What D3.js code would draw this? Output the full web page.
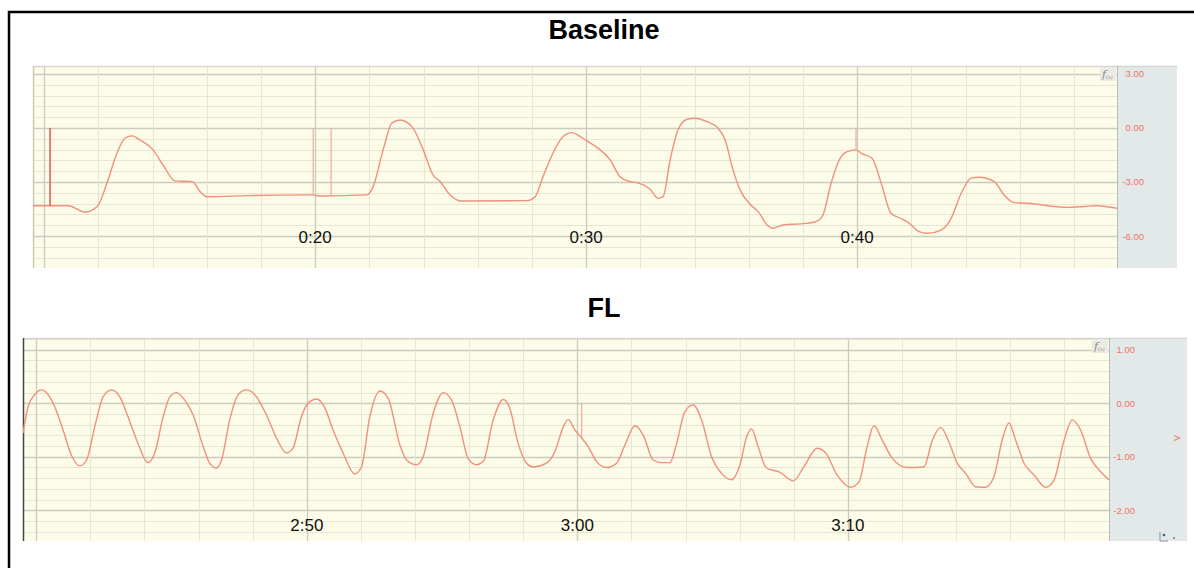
<!DOCTYPE html>
<meta charset="utf-8">
<html>
<head>
  <title>Baseline / FL</title>
  <style>
    body { margin: 0; background: #fff; }
    svg { display: block; font-family: "Liberation Sans", Arial, sans-serif; }
    .title { font-weight: 700; font-size: 27px; fill: #000; }
    .tlabel { font-size: 17px; fill: #111; }
    .ytick text { font-size: 9.5px; fill: #f07464; }
    .trace { fill: none; stroke: #f0907e; stroke-width: 1.4px; }
  </style>
</head>
<body>
<svg width="1194" height="568"></svg>
<script src="https://cdn.jsdelivr.net/npm/d3@7"></script>
<script>

// ---- Baseline panel (time in seconds, value in V)
var baseT = [9.59,10.89,11.51,11.96,12.32,12.69,12.99,13.25,13.54,14.02,14.39,14.83,15.46,15.76,16.01,17.49,
  19.93,20.18,21.92,22.14,22.51,22.84,23.14,23.58,23.99,24.35,24.61,24.98,25.42,27.82,28.12,28.41,28.78,
  29.15,29.48,29.78,30.15,30.52,30.89,31.25,31.62,31.88,32.36,32.66,32.84,33.10,33.39,33.73,34.02,34.46,
  34.87,35.13,35.42,35.68,36.05,36.35,36.68,36.86,37.27,37.90,38.41,38.71,39.04,39.34,39.63,39.96,40.15,
  40.55,40.89,41.25,41.66,41.92,42.29,42.58,43.10,43.47,43.84,44.21,44.50,45.06,45.42,45.79,46.27,47.75,
  48.38,48.86,49.59];
var baseV = [-4.32,-4.32,-4.68,-4.37,-3.06,-1.39,-0.56,-0.44,-0.67,-1.22,-2.06,-2.94,-2.98,-3.54,-3.82,-3.76,
  -3.72,-3.78,-3.72,-3.26,-1.22,0.28,0.44,0.06,-1.22,-2.61,-2.98,-3.72,-4.06,-4.04,-3.82,-2.71,-1.39,
  -0.48,-0.26,-0.48,-0.83,-1.22,-1.78,-2.71,-2.98,-3.04,-3.41,-3.91,-3.82,-1.78,-0.11,0.48,0.54,0.35,
  -0.02,-0.67,-2.33,-3.44,-4.24,-4.65,-5.39,-5.57,-5.39,-5.33,-5.24,-4.93,-3.07,-1.78,-1.32,-1.22,-1.41,
  -1.68,-3.07,-4.74,-5.06,-5.29,-5.76,-5.85,-5.67,-5.02,-3.63,-2.79,-2.74,-2.98,-3.72,-4.15,-4.18,-4.41,
  -4.36,-4.32,-4.46];
var baseMarkT = [10.22, 19.93, 20.59, 39.96];
var baseMarkV = [-4.32, -3.72, -3.72, -1.22];
var baseYTicks = [3, 0, -3, -6];
var baseTimeT = [20, 30, 40];
var baseTimeLabels = ["0:20", "0:30", "0:40"];

// ---- FL panel
var flT = [159.51,159.70,159.94,160.19,160.44,160.68,160.99,161.30,161.61,161.86,162.16,162.47,162.78,163.09,
  163.39,163.76,164.13,164.38,164.69,164.94,165.18,165.49,165.80,166.17,166.41,166.66,166.85,167.15,167.46,
  167.77,168.08,168.51,168.88,169.25,169.49,169.80,170.11,170.36,170.67,170.97,171.34,171.77,172.02,172.33,
  172.70,173.01,173.44,173.69,174.06,174.30,174.67,175.04,175.35,175.66,175.96,176.27,176.52,176.89,177.26,
  177.50,177.81,178.12,178.37,178.86,179.17,179.48,179.66,179.91,180.16,180.40,180.71,181.08,181.45,181.76,
  182.13,182.43,182.80,183.11,183.42,183.67,183.97,184.28,184.59,184.96,185.33,185.70,186.01,186.26,186.44,
  186.68,186.99,187.49,187.98,188.37,188.86,189.18,189.60,190.10,190.41,190.71,190.96,191.27,191.64,192.19,
  192.81,193.12,193.43,193.73,194.04,194.35,194.72,195.09,195.40,195.70,195.95,196.20,196.51,196.88,197.31,
  197.62,197.99,198.29,198.60,198.97,199.34,199.65];
var flV = [-0.56,-0.06,0.16,0.25,0.16,-0.06,-0.50,-0.97,-1.17,-1.06,-0.44,0.12,0.25,0.12,
  -0.25,-0.75,-1.11,-0.93,-0.25,0.12,0.20,0.06,-0.22,-0.81,-1.12,-1.21,-1.06,-0.31,0.16,
  0.25,0.16,-0.22,-0.65,-0.93,-0.84,-0.25,0.03,0.08,-0.09,-0.50,-0.93,-1.32,-1.19,-0.25,
  0.23,0.09,-0.78,-1.06,-1.15,-1.00,-0.19,0.20,0.06,-0.44,-1.03,-1.15,-1.09,-0.31,0.07,
  -0.09,-0.75,-1.12,-1.19,-1.12,-0.90,-0.44,-0.30,-0.50,-0.65,-0.81,-1.09,-1.20,-1.12,-0.78,
  -0.42,-0.59,-1.06,-1.11,-1.11,-0.75,-0.16,-0.03,-0.31,-1.00,-1.31,-1.43,-1.15,-0.62,-0.48,
  -0.81,-1.21,-1.29,-1.45,-1.19,-0.84,-0.93,-1.34,-1.57,-1.47,-0.81,-0.42,-0.69,-1.03,-1.20,
  -1.19,-0.69,-0.45,-0.72,-1.12,-1.31,-1.56,-1.57,-1.37,-0.69,-0.37,-0.69,-1.12,-1.34,-1.57,
  -1.43,-0.69,-0.31,-0.50,-1.03,-1.28,-1.43];
var flMarkT = [180.16];
var flMarkV = [-0.65];
var flYTicks = [1, 0, -1, -2];
var flTimeT = [170, 180, 190];
var flTimeLabels = ["2:50", "3:00", "3:10"];

var svg = d3.select("svg");

// outer frame
svg.append("rect")
    .attr("x", 9).attr("y", 12).attr("width", 1200).attr("height", 600)
    .attr("fill", "none").attr("stroke", "#000").attr("stroke-width", 2.5);

svg.append("text").attr("class", "title")
    .attr("x", 604).attr("y", 39).attr("text-anchor", "middle").text("Baseline");
svg.append("text").attr("class", "title")
    .attr("x", 604).attr("y", 317).attr("text-anchor", "middle").text("FL");

function panel(o) {
  var x = d3.scaleLinear().domain([o.t[0], o.t[o.t.length - 1]]).range([o.left, o.right]);
  var y = d3.scaleLinear().domain(o.yDomain).range([o.bottom, o.top]);
  var g = svg.append("g");
  var id = "clip" + o.name;

  g.append("clipPath").attr("id", id).append("rect")
      .attr("x", o.left).attr("y", o.top)
      .attr("width", o.right - o.left).attr("height", o.bottom - o.top);

  // right grey strip (axis area)
  g.append("rect")
      .attr("x", o.right).attr("y", o.top)
      .attr("width", o.stripRight - o.right).attr("height", o.bottom - o.top)
      .attr("fill", "#e3e8e8");

  g.append("rect")
      .attr("x", o.left).attr("y", o.top)
      .attr("width", o.right - o.left).attr("height", o.bottom - o.top)
      .attr("fill", "#fcfce8");

  // grid - minor then major
  var xd = x.domain(), yd = y.domain();
  var xs = d3.range(Math.ceil(xd[0] / o.xMinor), Math.floor(xd[1] / o.xMinor) + 1);
  var ys = d3.range(Math.ceil(yd[0] / o.yMinor - 1e-6), Math.floor(yd[1] / o.yMinor + 1e-6) + 1);
  var grid = g.append("g").attr("clip-path", "url(#" + id + ")");

  grid.selectAll(".hy").data(ys).enter().append("line")
      .attr("x1", o.left).attr("x2", o.right)
      .attr("y1", function(i) { return Math.round(y(i * o.yMinor)) + 0.5; })
      .attr("y2", function(i) { return Math.round(y(i * o.yMinor)) + 0.5; })
      .attr("stroke", function(i) { return i % o.perMajor === 0 ? "#cbcbc0" : "#e6e6d2"; })
      .attr("stroke-width", function(i) { return i % o.perMajor === 0 ? 1.3 : 1; });

  grid.selectAll(".vx").data(xs).enter().append("line")
      .attr("y1", o.top).attr("y2", o.bottom)
      .attr("x1", function(i) { return Math.round(x(i * o.xMinor)) + 0.5; })
      .attr("x2", function(i) { return Math.round(x(i * o.xMinor)) + 0.5; })
      .attr("stroke", function(i) { return i % 5 === 0 ? "#cbcbc0" : "#e6e6d2"; })
      .attr("stroke-width", function(i) { return i % 5 === 0 ? 1.3 : 1; });

  // edges
  g.append("line").attr("x1", o.left).attr("x2", o.stripRight)
      .attr("y1", o.top + 0.5).attr("y2", o.top + 0.5).attr("stroke", "#d6d6d0").attr("stroke-width", 1.5);
  g.append("line").attr("x1", o.left + 0.5).attr("x2", o.left + 0.5)
      .attr("y1", o.top).attr("y2", o.bottom).attr("stroke", o.leftEdge).attr("stroke-width", 1.5);
  g.append("line").attr("x1", o.right + 0.5).attr("x2", o.right + 0.5)
      .attr("y1", o.top).attr("y2", o.bottom).attr("stroke", "#b8bcbc").attr("stroke-width", 1);

  // trace
  var pts = o.t.map(function(t, i) { return [t, o.v[i]]; });
  var line = d3.line()
      .x(function(d) { return x(d[0]); })
      .y(function(d) { return y(d[1]); })
      .curve(d3.curveMonotoneX);
  var tg = g.append("g").attr("clip-path", "url(#" + id + ")");
  tg.append("path").datum(pts).attr("class", "trace").attr("d", line);

  // event markers
  tg.selectAll(".mark").data(o.markT).enter().append("line")
      .attr("x1", function(d) { return x(d); }).attr("x2", function(d) { return x(d); })
      .attr("y1", function(d, i) { return y(o.markV[i]); })
      .attr("y2", y(0))
      .attr("stroke", function(d, i) { return i === 0 && o.name === "base" ? "#e8604f" : "#f2a496"; })
      .attr("stroke-width", function(d, i) { return i === 0 && o.name === "base" ? 1.6 : 1.1; });

  // f(x) button
  g.append("rect").attr("x", o.right - 17).attr("y", o.top + 1)
      .attr("width", 16).attr("height", 14).attr("fill", "#ebebe3");
  var fx = g.append("text").attr("x", o.right - 15).attr("y", o.top + 12)
      .attr("font-size", 11).attr("font-style", "italic")
      .attr("font-family", "DejaVu Serif").attr("fill", "#8a8a8a");
  fx.append("tspan").text("f");
  fx.append("tspan").attr("font-size", 5).attr("dy", 1).text("(x)");

  // value axis on grey strip
  var ax = g.append("g").attr("class", "ytick")
      .attr("transform", "translate(" + o.labelX + ",0)")
      .call(d3.axisLeft(y).tickValues(o.yTicks).tickSize(0)
        .tickFormat(function(d) { return d.toFixed(2); }));
  ax.select(".domain").remove();
  ax.selectAll("text").attr("x", 0).attr("text-anchor", "end");

  // time annotations
  g.selectAll(".tl").data(o.timeT).enter().append("text")
      .attr("class", "tlabel")
      .attr("x", function(d) { return x(d); })
      .attr("y", o.labelY)
      .attr("text-anchor", "middle")
      .text(function(d, i) { return o.timeLabels[i]; });

  return {x: x, y: y, g: g};
}

panel({
  name: "base", t: baseT, v: baseV, markT: baseMarkT, markV: baseMarkV,
  yTicks: baseYTicks, timeT: baseTimeT, timeLabels: baseTimeLabels,
  left: 33, right: 1117, top: 66, bottom: 268, stripRight: 1177,
  yDomain: [-7.78, 3.44], xMinor: 2, yMinor: 0.6, perMajor: 5,
  labelX: 1144, labelY: 243, leftEdge: "#c8c8c0"
});

var fl = panel({
  name: "fl", t: flT, v: flV, markT: flMarkT, markV: flMarkV,
  yTicks: flYTicks, timeT: flTimeT, timeLabels: flTimeLabels,
  left: 23, right: 1109, top: 338, bottom: 541, stripRight: 1187,
  yDomain: [-2.574, 1.22], xMinor: 2, yMinor: 0.2, perMajor: 5,
  labelX: 1135, labelY: 531, leftEdge: "#444"
});

// unit label on the FL strip
fl.g.append("text")
    .attr("transform", "translate(1180," + fl.y(-0.65) + ") rotate(-90)")
    .attr("text-anchor", "middle").attr("font-size", 9).attr("fill", "#f07464")
    .text("V");

// small corner icon
fl.g.append("path").attr("d", "M1160,532 V541 H1168").attr("fill", "none")
    .attr("stroke", "#8a8f99").attr("stroke-width", 1);
fl.g.append("circle").attr("cx", 1164).attr("cy", 535).attr("r", 1.3).attr("fill", "#3050d0");
fl.g.append("circle").attr("cx", 1174).attr("cy", 538).attr("r", 1).attr("fill", "#777");

</script>
</body>
</html>
